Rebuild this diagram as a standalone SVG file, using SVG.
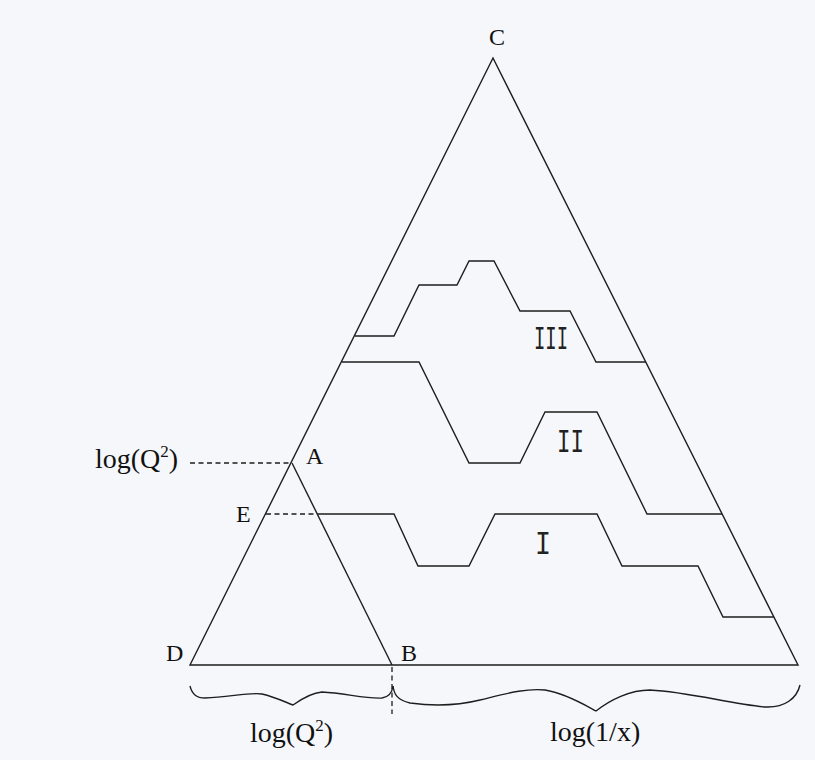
<svg xmlns="http://www.w3.org/2000/svg" width="815" height="760" viewBox="0 0 815 760">
<style>
.ln{fill:none;stroke:#1e1e1e;stroke-width:1.4;stroke-linejoin:miter}
.dash{fill:none;stroke:#1e1e1e;stroke-width:1.3;stroke-dasharray:5,3.5}
.lbl{font-family:"Liberation Serif","Times New Roman",serif;fill:#111}
.pt{font-size:24px}
.ax{font-size:28px}
.rn{font-family:"Liberation Mono","Courier New",monospace;font-size:34px;fill:#222}
</style>
<rect x="0" y="0" width="815" height="760" fill="#f5f7fb"/>
<g id="triangle">
<path class="ln" d="M190,665 L493,58 L798,665 Z"/>
<path class="ln" d="M292,463 L392,665"/>
</g>
<g id="connectors">
<path id="ladder-I" class="ln" d="M318,514 L394,514 L418,566 L469,566 L495,514 L597,514 L622,566 L698,566 L723,617 L774,617"/>
<path id="ladder-II" class="ln" d="M342,362 L419,362 L469,463 L520,463 L545,412 L597,412 L647,514 L722,514"/>
<path id="ladder-III" class="ln" d="M355,336 L394,336 L419,285 L457,285 L469,261 L494,261 L520,311 L570,311 L596,362 L646,362"/>
<path class="dash" d="M190,463 L292,463"/>
<path class="dash" d="M266,514 L318,514"/>
<path class="dash" d="M392,667 L392,714"/>
<path id="brace-left" class="ln" d="M190,686 C192,694 196,698 205,698 C230,697 250,692 262,694 C275,697 285,702 293,705 C300,700 310,693 322,692 C345,693 365,699 382,698 C389,697 392,693 393,686"/>
<path id="brace-right" class="ln" d="M393,686 C394,694 397,700 410,703 C440,707 460,705 480,700 C505,694 525,688 545,690 C565,693 585,705 596,711 C610,700 630,690 650,690 C690,692 730,704 765,707 C785,708 797,698 800,685"/>
</g>
<g id="node-C"><text class="lbl pt" x="497" y="45" text-anchor="middle">C</text></g>
<g id="node-A"><text class="lbl pt" x="306" y="464">A</text></g>
<g id="node-E"><text class="lbl pt" x="236" y="522">E</text></g>
<g id="node-D"><text class="lbl pt" x="166" y="661">D</text></g>
<g id="node-B"><text class="lbl pt" x="401" y="661">B</text></g>
<g id="label-logQ2-left"><text class="lbl ax" x="95" y="468">log(Q<tspan font-size="17" dy="-11">2</tspan><tspan dy="11">)</tspan></text></g>
<g id="label-logQ2-bottom"><text class="lbl ax" x="250" y="742">log(Q<tspan font-size="17" dy="-11">2</tspan><tspan dy="11">)</tspan></text></g>
<g id="label-log1x"><text class="lbl ax" x="550" y="741">log(1/x)</text></g>
<g id="region-III"><text class="rn" x="534" y="349" textLength="34" lengthAdjust="spacingAndGlyphs">III</text></g>
<g id="region-II"><text class="rn" x="557" y="452" textLength="27" lengthAdjust="spacingAndGlyphs">II</text></g>
<g id="region-I"><text class="rn" x="535" y="554" textLength="16" lengthAdjust="spacingAndGlyphs">I</text></g>
</svg>
